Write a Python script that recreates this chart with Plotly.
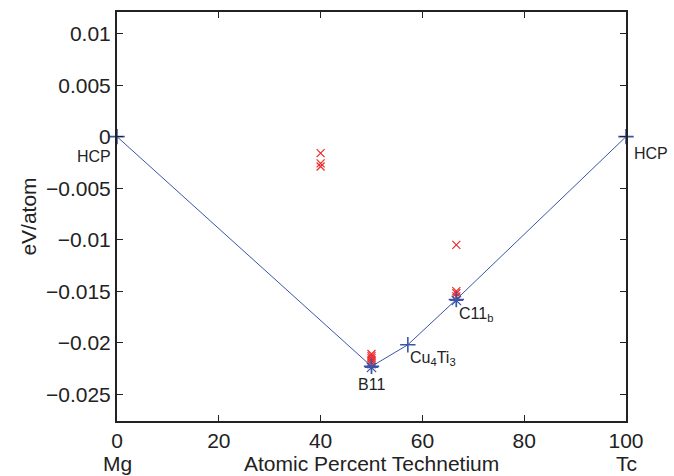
import plotly.graph_objects as go

# Convex hull (ground states)
hull_x = [0, 50, 57.14, 66.67, 100]
hull_y = [0, -0.0223, -0.0202, -0.0158, 0]
hull_labels = ["HCP", "B11", "Cu<sub>4</sub>Ti<sub>3</sub>", "C11<sub>b</sub>", "HCP"]

# Asterisk markers on hull
star_x = [50, 66.67]
star_y = [-0.0224, -0.0159]

# Other calculated structures (red x)
red_x = [40, 40, 40,
         50, 50, 50, 50, 50, 50,
         66.67, 66.67, 66.67, 66.67]
red_y = [-0.0016, -0.0026, -0.0029,
         -0.0211, -0.0213, -0.0215, -0.0217, -0.0219, -0.0221,
         -0.0105, -0.0150, -0.0152, -0.0155]

y_tickvals = [0.01, 0.005, 0, -0.005, -0.01, -0.015, -0.02, -0.025]
y_ticktext = ["0.01", "0.005", "0", "\u22120.005", "\u22120.01", "\u22120.015", "\u22120.02", "\u22120.025"]
x_tickvals = [0, 20, 40, 60, 80, 100]

blue = "#3a55a8"
red = "#ee2a2a"
txt = "#222222"
font = "Liberation Sans, Arial, sans-serif"
fs = 21

fig = go.Figure()
fig.add_trace(go.Scatter(x=red_x, y=red_y, mode="markers", cliponaxis=False,
                         marker=dict(symbol="x-thin-open", size=8, color=red,
                                     line=dict(width=1.2, color=red)),
                         showlegend=False))
fig.add_trace(go.Scatter(x=hull_x, y=hull_y, mode="lines+markers", cliponaxis=False,
                         line=dict(color=blue, width=1),
                         marker=dict(symbol="cross-thin-open", size=11, color=blue,
                                     line=dict(width=1.6, color=blue)),
                         showlegend=False))
fig.add_trace(go.Scatter(x=star_x, y=star_y, mode="markers", cliponaxis=False,
                         marker=dict(symbol="asterisk-open", size=11, color=blue,
                                     line=dict(width=1.2, color=blue)),
                         showlegend=False))

# Labels on hull points
offsets = [
    dict(xanchor="right", yanchor="top", xshift=-4, yshift=-9),
    dict(xanchor="center", yanchor="top", xshift=0, yshift=-8),
    dict(xanchor="left", yanchor="top", xshift=0, yshift=-2),
    dict(xanchor="left", yanchor="top", xshift=1, yshift=-4),
    dict(xanchor="left", yanchor="top", xshift=6, yshift=-6),
]
for xv, yv, lab, off in zip(hull_x, hull_y, hull_labels, offsets):
    fig.add_annotation(x=xv, y=yv, text=lab, showarrow=False,
                       font=dict(size=16, color=txt, family=font), **off)

# Extra x-axis labels
fig.add_annotation(x=0, y=0, xref="x", yref="paper", text="Mg", showarrow=False,
                   xanchor="center", yanchor="top", yshift=-29,
                   font=dict(size=fs, color=txt, family=font))
fig.add_annotation(x=100, y=0, xref="x", yref="paper", text="Tc", showarrow=False,
                   xanchor="center", yanchor="top", yshift=-29,
                   font=dict(size=fs, color=txt, family=font))
fig.add_annotation(x=0.5, y=0, xref="paper", yref="paper", text="Atomic Percent Technetium",
                   showarrow=False, xanchor="center", yanchor="top", yshift=-29,
                   font=dict(size=fs, color=txt, family=font))

axis_common = dict(showgrid=False, zeroline=False, showline=True, linecolor="#222222",
                   linewidth=2, mirror="ticks", ticks="inside", ticklen=6,
                   tickcolor="#222222", tickwidth=1,
                   tickfont=dict(size=fs, color=txt, family=font))

fig.update_xaxes(range=[0, 100], tickvals=x_tickvals, **axis_common)
fig.update_yaxes(range=[-0.0276, 0.0121], tickvals=y_tickvals, ticktext=y_ticktext,
                 title=dict(text="eV/atom", font=dict(size=fs, color=txt, family=font), standoff=4),
                 **axis_common)

fig.update_layout(width=674, height=476, plot_bgcolor="white", paper_bgcolor="white",
                  margin=dict(l=117, r=48, t=10, b=55))

fig.write_html("out.html")
